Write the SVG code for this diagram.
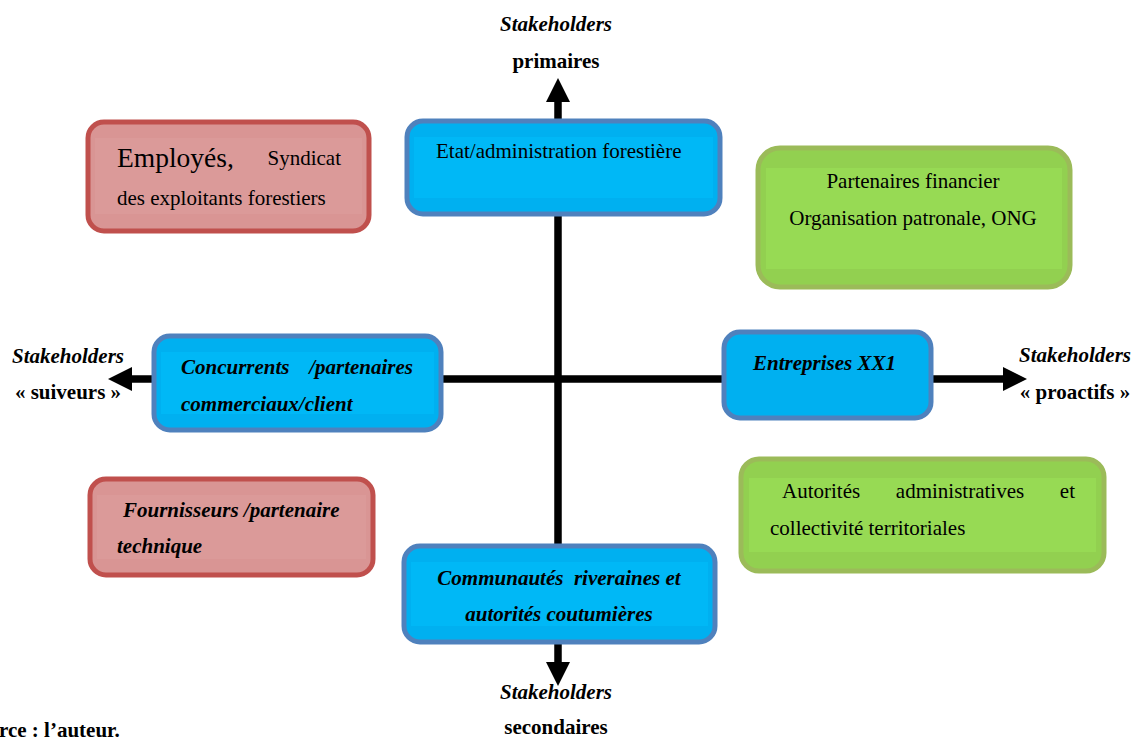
<svg xmlns="http://www.w3.org/2000/svg" width="1131" height="738" viewBox="0 0 1131 738">
<defs>
<marker id="ah" viewBox="0 0 24 24" refX="0" refY="12" markerWidth="24" markerHeight="24" markerUnits="userSpaceOnUse" orient="auto">
<path d="M0,0 L24,12 L0,24 Z" fill="#000"/>
</marker>
</defs>
<style>
text{font-family:"Liberation Serif","Times New Roman",serif;fill:#000;font-size:21px}
.b{font-weight:bold}
.bi{font-weight:bold;font-style:italic}
.axis{stroke:#000;stroke-width:7;fill:none}
.red{fill:#D99594;stroke:#C0504D;stroke-width:5}
.redin{fill:#DB9A99}
.blue{fill:#00B0F0;stroke:#4F81BD;stroke-width:5}
.bluein{fill:#00B8F6}
.green{fill:#92D050;stroke:#9BBB59;stroke-width:5}
.greenin{fill:#97DA54}
</style>
<rect width="1131" height="738" fill="#fff"/>
<g id="connectors">
<line class="axis" x1="558" y1="662" x2="558" y2="102" marker-end="url(#ah)"/>
<line class="axis" x1="558" y1="102" x2="558" y2="662" marker-end="url(#ah)"/>
<line class="axis" x1="1003" y1="379" x2="132" y2="379" marker-end="url(#ah)"/>
<line class="axis" x1="132" y1="379" x2="1003" y2="379" marker-end="url(#ah)"/>
</g>
<g id="node-employes">
<rect class="red" x="88" y="122" width="281" height="109" rx="16"/>
<rect class="redin" x="95" y="138" width="267" height="76"/>
<text x="117" y="167" style="font-size:27.5px">Employés,</text>
<text x="341" y="165" text-anchor="end">Syndicat</text>
<text x="117" y="205">des exploitants forestiers</text>
</g>
<g id="node-etat">
<rect class="blue" x="407" y="121" width="313" height="93" rx="16"/>
<rect class="bluein" x="414" y="137" width="299" height="61"/>
<text x="436" y="158">Etat/administration forestière</text>
</g>
<g id="node-partenaires">
<rect class="green" x="758" y="148" width="312" height="139" rx="22"/>
<rect class="greenin" x="766" y="168" width="296" height="101"/>
<text x="913" y="188" text-anchor="middle">Partenaires financier</text>
<text x="913" y="225" text-anchor="middle">Organisation patronale, ONG</text>
</g>
<g id="node-concurrents">
<rect class="blue" x="154" y="336" width="287" height="94" rx="16"/>
<rect class="bluein" x="161" y="352" width="273" height="62"/>
<text class="bi" x="181" y="374">Concurrents</text>
<text class="bi" x="413" y="374" text-anchor="end">/partenaires</text>
<text class="bi" x="181" y="411">commerciaux/client</text>
</g>
<g id="node-entreprises">
<rect class="blue" x="724" y="332" width="207" height="86" rx="16"/>
<text class="bi" x="753" y="370">Entreprises XX1</text>
</g>
<g id="node-fournisseurs">
<rect class="red" x="90" y="479" width="283" height="96" rx="16"/>
<rect class="redin" x="97" y="495" width="269" height="64"/>
<text class="bi" x="123" y="517">Fournisseurs /partenaire</text>
<text class="bi" x="117" y="553">technique</text>
</g>
<g id="node-communautes">
<rect class="blue" x="404" y="546" width="311" height="96" rx="16"/>
<rect class="bluein" x="411" y="562" width="297" height="64"/>
<text class="bi" x="559" y="585" text-anchor="middle" xml:space="preserve">Communautés  riveraines et</text>
<text class="bi" x="559" y="621" text-anchor="middle">autorités coutumières</text>
</g>
<g id="node-autorites">
<rect class="green" x="741" y="459" width="363" height="112" rx="18"/>
<rect class="greenin" x="749" y="478" width="347" height="74"/>
<text x="782" y="498">Autorités</text>
<text x="960" y="498" text-anchor="middle">administratives</text>
<text x="1075" y="498" text-anchor="end">et</text>
<text x="770" y="535">collectivité territoriales</text>
</g>
<g id="labels">
<text class="bi" x="556" y="31" text-anchor="middle">Stakeholders</text>
<text class="b" x="556" y="68" text-anchor="middle">primaires</text>
<text class="bi" x="68" y="363" text-anchor="middle">Stakeholders</text>
<text class="b" x="68" y="399" text-anchor="middle">« suiveurs »</text>
<text class="bi" x="1075" y="362" text-anchor="middle">Stakeholders</text>
<text class="b" x="1075" y="399" text-anchor="middle">« proactifs »</text>
<text class="bi" x="556" y="699" text-anchor="middle">Stakeholders</text>
<text class="b" x="556" y="734" text-anchor="middle">secondaires</text>
<text class="b" x="-1" y="737">rce : l’auteur.</text>
</g>
</svg>
